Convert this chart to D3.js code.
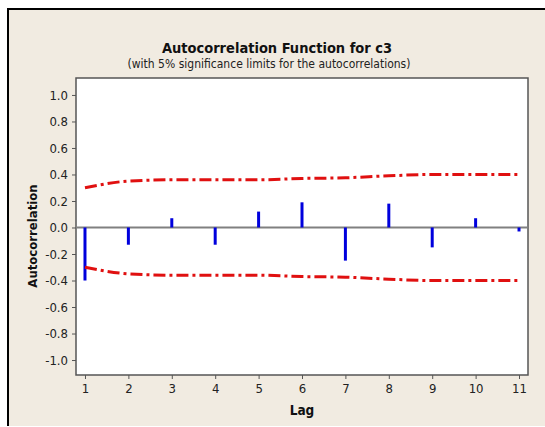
<!DOCTYPE html>
<html><head><meta charset="utf-8">
<script src="https://cdn.jsdelivr.net/npm/d3@7"></script>
<style>html,body{margin:0;padding:0;background:#fff;}svg{display:block;}</style>
</head><body>
<svg id="chart" width="545" height="427"></svg>
<script>
const lags = [1,2,3,4,5,6,7,8,9,10,11];
const acf = [-0.40,-0.13,0.07,-0.13,0.12,0.19,-0.25,0.18,-0.15,0.07,-0.03];
const limits = [0.30,0.35,0.36,0.36,0.36,0.37,0.375,0.39,0.40,0.40,0.40];
const yTicks = [-1.0,-0.8,-0.6,-0.4,-0.2,0.0,0.2,0.4,0.6,0.8,1.0];
const titleText = "Autocorrelation Function for c3";
const subtitleText = "(with 5% significance limits for the autocorrelations)";

const svg = d3.select("#chart");
const font = "Tahoma, 'DejaVu Sans Condensed', 'Liberation Sans Narrow', sans-serif";

// panel background
svg.append("rect").attr("x",8).attr("y",8).attr("width",537).attr("height",418).attr("fill","#f1ebe1");
svg.append("line").attr("x1",8).attr("x2",545).attr("y1",9).attr("y2",9).attr("stroke","#000").attr("stroke-width",2);
svg.append("line").attr("x1",8).attr("x2",8).attr("y1",8).attr("y2",426).attr("stroke","#000").attr("stroke-width",2);

const L=76, R=528, T=78, B=375;
const x = d3.scaleLinear().domain([0.793,11.207]).range([L,R]);
const y = d3.scaleLinear().domain([-1.113,1.128]).range([B,T]);

svg.append("rect").attr("x",L).attr("y",T).attr("width",R-L).attr("height",B-T).attr("fill","#fff");

// titles
svg.append("text").attr("x",277).attr("y",53).attr("text-anchor","middle")
  .attr("font-family",font).attr("font-weight","bold").attr("font-size",14.5).attr("fill","#111").text(titleText);
svg.append("text").attr("x",269).attr("y",68).attr("text-anchor","middle")
  .attr("font-family",font).attr("font-size",12).attr("fill","#222").text(subtitleText);

// axes
const yAxis = d3.axisLeft(y).tickValues(yTicks).tickFormat(d3.format(".1f")).tickSize(4).tickPadding(4).tickSizeOuter(0);
const gy = svg.append("g").attr("transform",`translate(${L},0)`).call(yAxis);
const xAxis = d3.axisBottom(x).tickValues(lags).tickFormat(d3.format("d")).tickSize(4).tickPadding(5).tickSizeOuter(0);
const gx = svg.append("g").attr("transform",`translate(0,${B})`).call(xAxis);
[gx,gy].forEach(g=>{
  g.selectAll("text").attr("font-family",font).attr("font-size",13).attr("fill","#222");
  g.selectAll("line").attr("stroke","#555");
  g.select(".domain").remove();
});
gy.selectAll("text").text(d=>d3.format(".1f")(d).replace("−","-"));

// frame
svg.append("rect").attr("x",L).attr("y",T).attr("width",R-L).attr("height",B-T)
  .attr("fill","none").attr("stroke","#555").attr("stroke-width",1.5);

// zero line
svg.append("line").attr("x1",L).attr("x2",R).attr("y1",y(0)).attr("y2",y(0)).attr("stroke","#808080").attr("stroke-width",2);

// bars
svg.append("g").selectAll("line").data(lags).join("line")
  .attr("x1",d=>x(d)).attr("x2",d=>x(d))
  .attr("y1",y(0)).attr("y2",(d,i)=>y(acf[i]))
  .attr("stroke","#0000dd").attr("stroke-width",3);

// significance limits
const upper = d3.line().x(d=>x(d)).y((d,i)=>y(limits[i])).curve(d3.curveMonotoneX);
const lower = d3.line().x(d=>x(d)).y((d,i)=>y(-limits[i])).curve(d3.curveMonotoneX);
[upper,lower].forEach(gen=>{
  svg.append("path").attr("d",gen(lags)).attr("fill","none").attr("stroke","#e01010")
    .attr("stroke-width",3).attr("stroke-dasharray","12,4,3,4");
});

// axis labels
svg.append("text").attr("x",302).attr("y",415).attr("text-anchor","middle")
  .attr("font-family",font).attr("font-weight","bold").attr("font-size",13.5).attr("fill","#111").text("Lag");
svg.append("text").attr("transform","translate(37,236) rotate(-90)").attr("text-anchor","middle")
  .attr("font-family",font).attr("font-weight","bold").attr("font-size",13).attr("fill","#111").text("Autocorrelation");
</script>
</body></html>
